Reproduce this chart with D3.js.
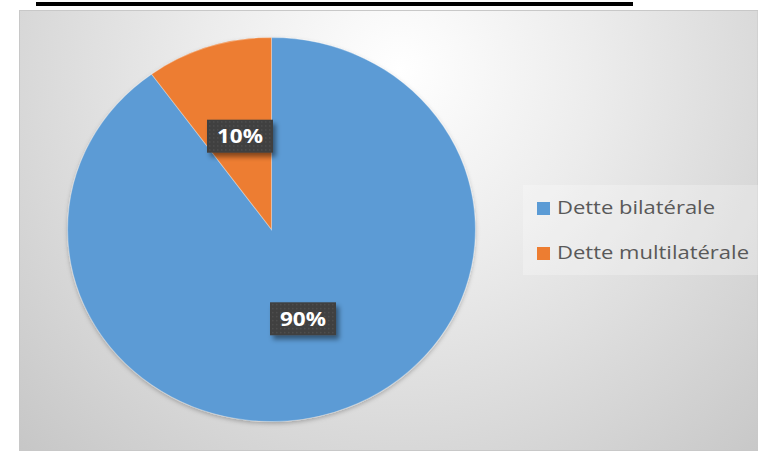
<!DOCTYPE html>
<html>
<head>
<meta charset="utf-8">
<script src="https://cdn.jsdelivr.net/npm/d3@7"></script>
<style>
  body { margin: 0; background: #fff; }
  svg { display: block; }
</style>
</head>
<body>
<svg id="drawing_region"></svg>
<script>
// chart data
const categories = ["Dette bilatérale", "Dette multilatérale"];
const values = [90, 10];
const colors = ["#5b9bd5", "#ed7d31"];

class PieChart {

    constructor(config) {
        this.config = {
            parent: config.parent,
            width: config.width || 758,
            height: config.height || 451,
            cx: config.cx,
            cy: config.cy,
            radius: config.radius,
            stretch: config.stretch || 1
        };
        this.data = categories.map((c, i) => ({label: c, value: values[i], color: colors[i]}));
        this.init();
    }

    init() {
        let self = this;

        self.svg = d3.select(self.config.parent)
            .attr('width', self.config.width)
            .attr('height', self.config.height);

        const defs = self.svg.append('defs');

        const grad = defs.append('radialGradient')
            .attr('id', 'bg')
            .attr('gradientUnits', 'userSpaceOnUse')
            .attr('cx', 400).attr('cy', 70).attr('r', 560);
        grad.append('stop').attr('offset', '0%').attr('stop-color', '#ffffff');
        grad.append('stop').attr('offset', '35%').attr('stop-color', '#ececec');
        grad.append('stop').attr('offset', '100%').attr('stop-color', '#c4c4c4');

        const pat = defs.append('pattern')
            .attr('id', 'dots')
            .attr('patternUnits', 'userSpaceOnUse')
            .attr('width', 4).attr('height', 4);
        pat.append('rect').attr('width', 4).attr('height', 4).attr('fill', '#3f3f3f');
        pat.append('rect').attr('x', 1).attr('y', 1).attr('width', 1.5).attr('height', 1.5).attr('fill', '#4e4e4e');

        const sh = defs.append('filter').attr('id', 'shadow')
            .attr('x', '-20%').attr('y', '-20%').attr('width', '150%').attr('height', '160%');
        sh.append('feDropShadow').attr('dx', 3).attr('dy', 4).attr('stdDeviation', 2.5)
            .attr('flood-color', '#000').attr('flood-opacity', 0.45);

        const psh = defs.append('filter').attr('id', 'pieShadow')
            .attr('x', '-10%').attr('y', '-10%').attr('width', '120%').attr('height', '125%');
        psh.append('feDropShadow').attr('dx', 0).attr('dy', 2).attr('stdDeviation', 2)
            .attr('flood-color', '#000').attr('flood-opacity', 0.25);

        self.pie = d3.pie().sort(null).value(d => d.value);
        self.arc = d3.arc().innerRadius(0).outerRadius(self.config.radius);
        self.labelArc = d3.arc()
            .innerRadius(self.config.radius * 0.5)
            .outerRadius(self.config.radius * 0.5);
    }

    update() {
        this.render();
    }

    render() {
        let self = this;
        const cfg = self.config;

        // heading underline cut off at the top
        self.svg.append('rect')
            .attr('x', 36).attr('y', 2).attr('width', 597).attr('height', 4)
            .attr('fill', '#000');

        // chart area
        self.svg.append('rect')
            .attr('x', 19.5).attr('y', 10.5)
            .attr('width', cfg.width - 19.5).attr('height', 440)
            .attr('fill', 'url(#bg)')
            .attr('stroke', '#c8c8c8').attr('stroke-width', 1);

        const arcs = self.pie(self.data);

        const g = self.svg.append('g')
            .attr('transform', `translate(${cfg.cx}, ${cfg.cy}) scale(${cfg.stretch}, 1)`)
            .attr('filter', 'url(#pieShadow)');

        g.selectAll('path')
            .data(arcs)
            .enter()
            .append('path')
            .attr('d', self.arc)
            .attr('fill', d => d.data.color)
            .attr('stroke', 'rgba(255,255,255,0.3)')
            .attr('stroke-width', 1);

        // data labels
        const total = d3.sum(values);
        const lab = self.svg.selectAll('g.lab')
            .data(arcs)
            .enter()
            .append('g')
            .attr('class', 'lab')
            .attr('transform', d => {
                const c = self.labelArc.centroid(d);
                return `translate(${cfg.cx + c[0] * cfg.stretch}, ${cfg.cy + c[1] - 2})`;
            });

        lab.append('rect')
            .attr('x', -33).attr('y', -16.5)
            .attr('width', 66).attr('height', 33)
            .attr('fill', 'url(#dots)')
            .attr('filter', 'url(#shadow)');

        lab.append('text')
            .attr('text-anchor', 'middle')
            .attr('dy', '0.36em')
            .attr('fill', '#fff')
            .style('font-family', "'Open Sans', sans-serif")
            .style('font-weight', 'bold')
            .style('font-size', '19px')
            .attr('textLength', 46)
            .attr('lengthAdjust', 'spacingAndGlyphs')
            .text(d => Math.round(d.data.value / total * 100) + '%');

        // legend
        self.svg.append('rect')
            .attr('x', 523).attr('y', 185)
            .attr('width', cfg.width - 523).attr('height', 90)
            .attr('fill', '#fff').attr('fill-opacity', 0.25);

        const leg = self.svg.selectAll('g.leg')
            .data(self.data)
            .enter()
            .append('g')
            .attr('class', 'leg')
            .attr('transform', (d, i) => `translate(537, ${208 + i * 45})`);

        leg.append('rect')
            .attr('x', 0).attr('y', -6)
            .attr('width', 13).attr('height', 13)
            .attr('fill', d => d.color);

        leg.append('text')
            .attr('x', 20)
            .attr('dy', '0.36em')
            .attr('fill', '#595959')
            .style('font-family', "'Open Sans', sans-serif")
            .style('font-size', '18px')
            .attr('textLength', (d, i) => i === 0 ? 158 : 192)
            .attr('lengthAdjust', 'spacingAndGlyphs')
            .text(d => d.label);
    }
}

const pie_chart = new PieChart({
    parent: '#drawing_region',
    width: 758,
    height: 451,
    cx: 271.5,
    cy: 229.5,
    radius: 192,
    stretch: 1.062
});
pie_chart.update();
</script>
</body>
</html>
